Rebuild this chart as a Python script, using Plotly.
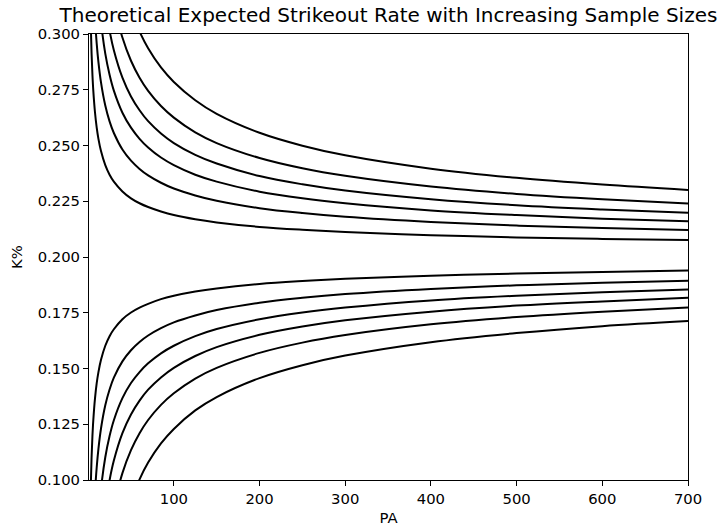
import plotly.graph_objects as go

# Plate appearances at which each band is evaluated
pa = [3, 4, 5, 6, 8, 10, 12, 15, 20, 25, 30, 40, 50, 60, 70, 85, 100,
      125, 150, 200, 250, 300, 400, 500, 600, 700]

# Upper bands (innermost to outermost)
upper_1 = [0.3053, 0.2913, 0.2817, 0.2747, 0.2648, 0.2580, 0.2530, 0.2475, 0.2412, 0.2369,
           0.2338, 0.2294, 0.2263, 0.2241, 0.2224, 0.2204, 0.2188, 0.2169, 0.2155, 0.2135,
           0.2122, 0.2112, 0.2098, 0.2088, 0.2081, 0.2076]
upper_2 = [0.3741, 0.3509, 0.3350, 0.3233, 0.3069, 0.2957, 0.2874, 0.2783, 0.2679, 0.2608,
           0.2556, 0.2482, 0.2432, 0.2395, 0.2366, 0.2333, 0.2307, 0.2276, 0.2252, 0.2219,
           0.2197, 0.2180, 0.2157, 0.2141, 0.2130, 0.2121]
upper_3 = [0.4344, 0.4031, 0.3817, 0.3660, 0.3438, 0.3287, 0.3176, 0.3052, 0.2912, 0.2817,
           0.2746, 0.2647, 0.2580, 0.2530, 0.2491, 0.2446, 0.2412, 0.2369, 0.2338, 0.2293,
           0.2263, 0.2241, 0.2209, 0.2188, 0.2172, 0.2160]
upper_4 = [0.4917, 0.4527, 0.4261, 0.4065, 0.3789, 0.3601, 0.3462, 0.3308, 0.3134, 0.3015,
           0.2927, 0.2804, 0.2720, 0.2658, 0.2609, 0.2554, 0.2511, 0.2458, 0.2419, 0.2363,
           0.2326, 0.2298, 0.2259, 0.2232, 0.2213, 0.2198]
upper_5 = [0.5573, 0.5095, 0.4769, 0.4528, 0.4191, 0.3960, 0.3790, 0.3602, 0.3388, 0.3242,
           0.3135, 0.2984, 0.2880, 0.2804, 0.2745, 0.2677, 0.2625, 0.2559, 0.2511, 0.2444,
           0.2398, 0.2364, 0.2316, 0.2283, 0.2259, 0.2240]
upper_6 = [0.6497, 0.5895, 0.5485, 0.5182, 0.4756, 0.4466, 0.4252, 0.4015, 0.3746, 0.3562,
           0.3427, 0.3237, 0.3107, 0.3011, 0.2936, 0.2850, 0.2785, 0.2703, 0.2642, 0.2557,
           0.2499, 0.2456, 0.2396, 0.2355, 0.2325, 0.2301]

# Lower bands (innermost to outermost)
lower_1 = [0.0961, 0.1101, 0.1197, 0.1267, 0.1366, 0.1434, 0.1484, 0.1539, 0.1602, 0.1645,
           0.1676, 0.1721, 0.1751, 0.1773, 0.1790, 0.1811, 0.1826, 0.1845, 0.1859, 0.1879,
           0.1892, 0.1902, 0.1916, 0.1926, 0.1933, 0.1939]
lower_2 = [0.0273, 0.0505, 0.0664, 0.0781, 0.0945, 0.1057, 0.1140, 0.1231, 0.1335, 0.1406,
           0.1459, 0.1532, 0.1582, 0.1619, 0.1648, 0.1681, 0.1707, 0.1738, 0.1762, 0.1795,
           0.1817, 0.1834, 0.1857, 0.1873, 0.1884, 0.1894]
lower_3 = [-0.0330, -0.0017, 0.0197, 0.0354, 0.0576, 0.0727, 0.0838, 0.0962, 0.1102, 0.1197,
           0.1268, 0.1367, 0.1435, 0.1484, 0.1523, 0.1568, 0.1602, 0.1645, 0.1677, 0.1721,
           0.1751, 0.1773, 0.1805, 0.1826, 0.1842, 0.1854]
lower_4 = [-0.0903, -0.0513, -0.0247, -0.0051, 0.0225, 0.0413, 0.0552, 0.0706, 0.0880, 0.0999,
           0.1087, 0.1210, 0.1294, 0.1356, 0.1405, 0.1460, 0.1503, 0.1556, 0.1596, 0.1651,
           0.1688, 0.1716, 0.1755, 0.1782, 0.1801, 0.1817]
lower_5 = [-0.1559, -0.1081, -0.0755, -0.0514, -0.0177, 0.0054, 0.0224, 0.0412, 0.0626, 0.0772,
           0.0879, 0.1031, 0.1134, 0.1210, 0.1269, 0.1337, 0.1389, 0.1455, 0.1503, 0.1570,
           0.1616, 0.1650, 0.1698, 0.1731, 0.1755, 0.1774]
lower_6 = [-0.2483, -0.1881, -0.1471, -0.1168, -0.0742, -0.0452, -0.0238, -0.0001, 0.0268, 0.0452,
           0.0587, 0.0777, 0.0907, 0.1003, 0.1078, 0.1164, 0.1229, 0.1312, 0.1372, 0.1457,
           0.1515, 0.1558, 0.1618, 0.1659, 0.1690, 0.1713]

x_ticks = [100, 200, 300, 400, 500, 600, 700]
y_ticks = [0.100, 0.125, 0.150, 0.175, 0.200, 0.225, 0.250, 0.275, 0.300]
y_tick_text = ["0.100", "0.125", "0.150", "0.175", "0.200", "0.225", "0.250", "0.275", "0.300"]

font_family = "DejaVu Sans"
tick_size = 14.8

fig = go.Figure()
for band in [upper_1, upper_2, upper_3, upper_4, upper_5, upper_6,
             lower_1, lower_2, lower_3, lower_4, lower_5, lower_6]:
    fig.add_trace(go.Scatter(
        x=pa, y=band, mode="lines",
        line=dict(color="black", width=2, shape="spline"),
        showlegend=False, hoverinfo="skip",
    ))

axis_common = dict(
    showgrid=False, zeroline=False, automargin=False,
    showline=True, linecolor="black", linewidth=1, mirror=True,
    ticks="outside", ticklen=5, tickwidth=1, tickcolor="black",
    tickfont=dict(family=font_family, size=tick_size, color="black"),
)

fig.update_layout(
    width=720, height=531,
    margin=dict(l=89, r=32, t=34, b=51),
    paper_bgcolor="white", plot_bgcolor="white",
    font=dict(family=font_family, color="black"),
    title=dict(
        text="Theoretical Expected Strikeout Rate with Increasing Sample Sizes",
        font=dict(family=font_family, size=20, color="black"),
        x=0.5, xref="paper", xanchor="center",
        y=1 - 15 / 531, yref="container", yanchor="middle",
    ),
    xaxis=dict(
        range=[1, 700], tickvals=x_ticks,
        title=dict(text="PA", font=dict(family=font_family, size=tick_size), standoff=6),
        **axis_common,
    ),
    yaxis=dict(
        range=[0.1, 0.3], tickvals=y_ticks, ticktext=y_tick_text,
        title=dict(text="K%", font=dict(family=font_family, size=tick_size), standoff=11),
        **axis_common,
    ),
)

fig.write_html("out.html")
